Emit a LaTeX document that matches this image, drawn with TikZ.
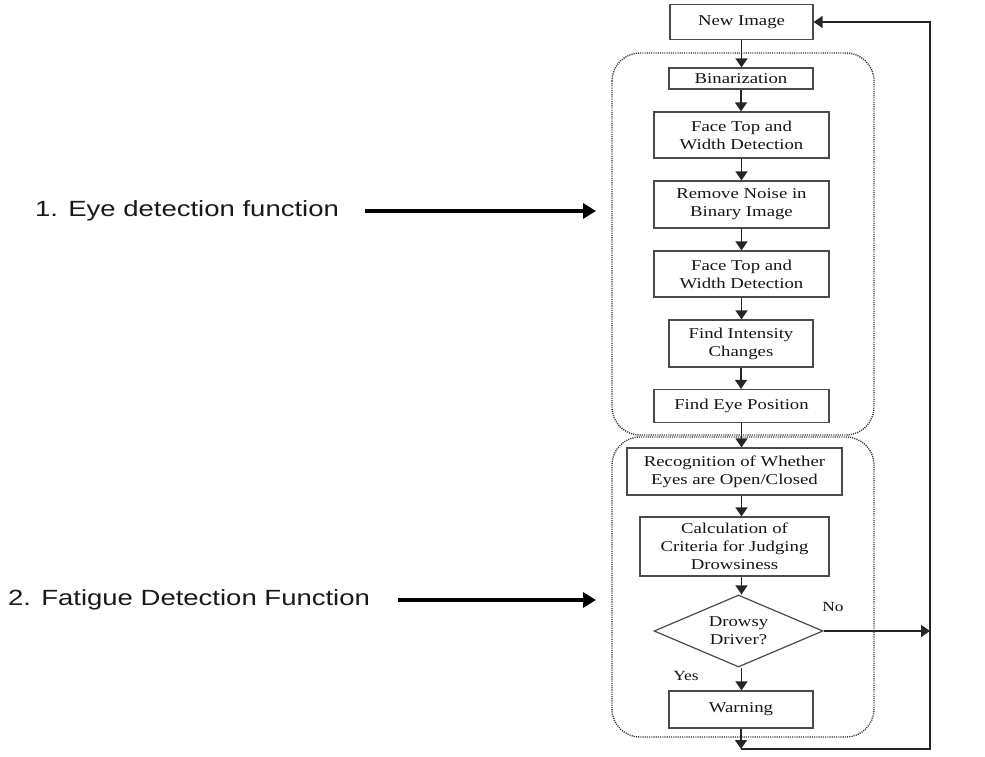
\documentclass[tikz,border=0pt]{standalone}
\usepackage{fontspec}
\setmainfont{Liberation Serif}
\newfontfamily\boxfont[FakeStretch=1.25]{Liberation Serif}
\newfontfamily\labfont[FakeStretch=1.25]{Liberation Sans}
\usetikzlibrary{arrows.meta,shapes.geometric}
\definecolor{boxgray}{HTML}{4A4A4A}
\definecolor{txt}{HTML}{151515}
\begin{document}
\begin{tikzpicture}[x=1pt,y=-1pt,
  box/.style={draw=boxgray, line width=1.2pt, fill=white, text=txt,
    font=\boxfont\fontsize{15}{18}\selectfont, align=center, inner sep=0pt},
  arr/.style={-{Triangle[width=12pt,length=9pt]}, line width=1.4pt, draw=black!85},
  region/.style={draw=black!80, line width=1.4pt, dash pattern=on 1.1pt off 1.1pt, rounded corners=28pt},
  big/.style={-{Triangle[width=15pt,length=13pt]}, line width=3.5pt, draw=black},
  lab/.style={font=\labfont\fontsize{22}{26}\selectfont, text=black!90, inner sep=0pt, anchor=west},
  small/.style={font=\boxfont\fontsize{14}{16}\selectfont, text=txt, inner sep=0pt}
]
\useasboundingbox (0,0) rectangle (985,757);

% dotted regions
\draw[region] (612,53) rectangle (874,435);
\draw[region] (612,437) rectangle (874,737);

% boxes
\node[box, minimum width=143pt, minimum height=35pt] (new) at (741.5,22) {New Image};
\node[box, minimum width=144pt, minimum height=21pt] (bin) at (741,78.5) {Binarization};
\node[box, minimum width=175pt, minimum height=46pt] (ft1) at (741.5,135) {Face Top and\\Width Detection};
\node[box, minimum width=175pt, minimum height=47pt] (noise) at (741.5,204.5) {Remove Noise in\\Binary Image};
\node[box, minimum width=175pt, minimum height=46pt] (ft2) at (741.5,274) {Face Top and\\Width Detection};
\node[box, minimum width=144pt, minimum height=47pt] (intens) at (741,343.5) {Find Intensity\\Changes};
\node[box, minimum width=175pt, minimum height=33pt] (eyepos) at (741.5,406) {Find Eye Position};
\node[box, minimum width=215pt, minimum height=47pt] (recog) at (734.5,471.5) {Recognition of Whether\\Eyes are Open/Closed};
\node[box, minimum width=189pt, minimum height=59pt] (calc) at (734.5,546.5) {Calculation of\\Criteria for Judging\\Drowsiness};
\node[box, diamond, aspect=2.35, minimum width=169pt, minimum height=72pt] (dia) at (738.5,631) {Drowsy\\Driver?};
\node[box, minimum width=144pt, minimum height=37pt] (warn) at (741,709.5) {Warning};

\node[small] (no) at (833,607) {No};
\node[small] (yes) at (686,676) {Yes};

% flow arrows
\draw[arr] (new.south) -- (new.south |- bin.north);
\draw[arr] (bin.south) -- (bin.south |- ft1.north);
\draw[arr] (ft1.south) -- (ft1.south |- noise.north);
\draw[arr] (noise.south) -- (noise.south |- ft2.north);
\draw[arr] (ft2.south) -- (ft2.south |- intens.north);
\draw[arr] (intens.south) -- (intens.south |- eyepos.north);
\draw[arr] (eyepos.south) -- (eyepos.south |- recog.north);
\draw[arr] (eyepos.south |- recog.south) -- (eyepos.south |- calc.north);
\draw[arr] (eyepos.south |- calc.south) -- (eyepos.south |- dia.north);
\draw[arr] (eyepos.south |- dia.south) -- (eyepos.south |- warn.north);

\coordinate (loopb) at (741,749);
\coordinate (loopr) at (930,749);
\draw[arr] (warn.south) -- (loopb);
\draw[arr] (loopb) -- (loopr) |- (new.east);
\draw[arr] (dia.east) -- (dia.east -| loopr);

% side labels
\node[lab] (l1) at (35,211) {1. Eye detection function};
\coordinate (s1) at (365,211);
\coordinate (e1) at (596,211);
\draw[big] (s1) -- (e1);

\node[lab] (l2) at (8,600) {2. Fatigue Detection Function};
\coordinate (s2) at (398,600);
\coordinate (e2) at (596,600);
\draw[big] (s2) -- (e2);
\end{tikzpicture}
\end{document}
